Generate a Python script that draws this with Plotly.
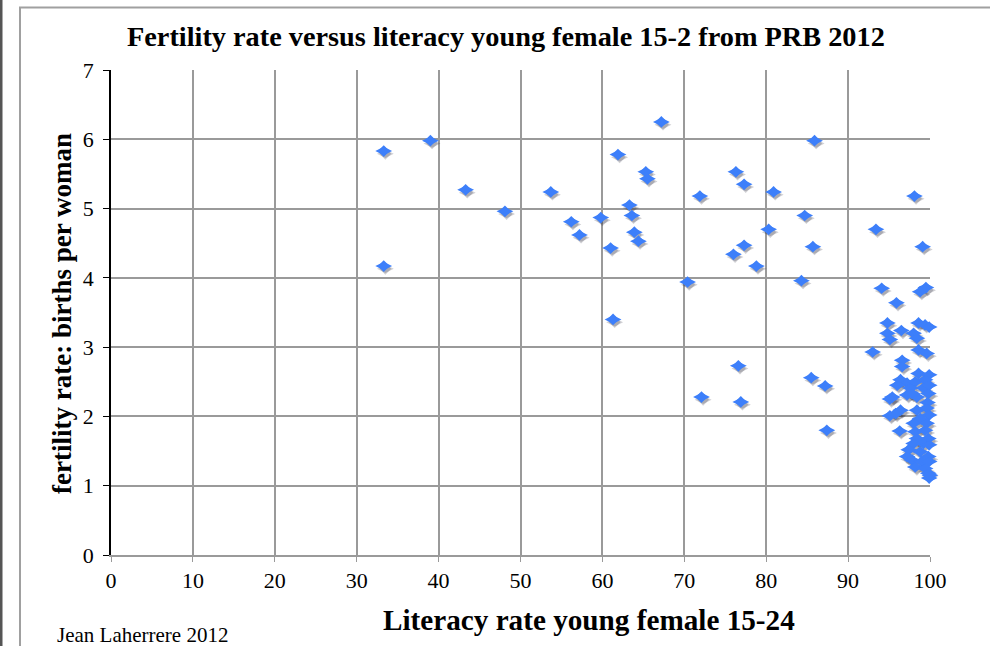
import plotly.graph_objects as go

# Literacy rate of young women (15-24, %) and total fertility rate (births per woman), PRB 2012
literacy = [
    33.3, 39.0, 43.3, 48.1, 33.3, 53.7,
    67.2, 85.9, 61.9, 65.3, 65.5, 76.3, 77.3, 71.9, 80.9, 63.3, 63.6, 59.8,
    56.2, 57.2, 63.9, 64.4, 61.0, 84.7, 80.3, 77.3, 76.0, 85.7, 78.8, 70.4,
    84.3, 61.3, 76.6, 85.5, 87.2, 72.1, 76.9, 87.4, 93.0,
    98.1, 99.1, 93.4, 94.1, 95.9, 98.8, 99.5,
    94.8, 94.8, 95.1, 96.5, 98.0, 98.4, 98.6, 99.4, 99.9,
    98.6, 99.6, 96.6, 96.6, 98.6, 99.9, 96.4, 97.2, 98.2, 99.4, 96.0, 97.6,
    99.2, 99.9, 95.4, 97.2, 98.4, 99.8,
    95.1, 97.8, 99.7, 96.4, 95.1, 95.8, 98.4, 99.6, 99.9, 98.8, 98.0, 99.6,
    96.3, 98.2, 99.4, 98.4, 99.8, 98.0, 99.2, 99.9, 97.4, 98.8, 97.2, 97.8,
    99.8, 99.0, 99.9, 98.2, 99.4, 99.8, 99.9, 100.0,
]
fertility = [
    5.83, 5.98, 5.27, 4.96, 4.17, 5.24,
    6.25, 5.98, 5.78, 5.53, 5.43, 5.53, 5.35, 5.18, 5.24, 5.05, 4.90, 4.87,
    4.81, 4.62, 4.66, 4.53, 4.43, 4.90, 4.70, 4.47, 4.34, 4.45, 4.17, 3.94,
    3.96, 3.40, 2.73, 2.56, 2.44, 2.28, 2.21, 1.80, 2.93,
    5.18, 4.45, 4.70, 3.85, 3.64, 3.80, 3.86,
    3.35, 3.20, 3.11, 3.24, 3.20, 3.13, 3.35, 3.32, 3.29,
    2.96, 2.91, 2.81, 2.72, 2.62, 2.60, 2.53, 2.48, 2.50, 2.53, 2.45, 2.41,
    2.41, 2.45, 2.28, 2.31, 2.28, 2.33,
    2.25, 2.33, 2.20, 2.09, 2.01, 2.04, 2.09, 2.12, 2.02, 1.97, 1.90, 1.90,
    1.79, 1.78, 1.80, 1.68, 1.68, 1.61, 1.61, 1.59, 1.52, 1.49, 1.42, 1.37,
    1.42, 1.35, 1.35, 1.27, 1.25, 1.18, 1.11, 1.15,
]

x_ticks = list(range(0, 101, 10))
y_ticks = list(range(0, 8))

W, H = 990, 646
L, R, T, B = 111, 60, 70, 91
pw, ph = W - L - R, H - T - B

def px_to_paper_x(px):
    return (px - L) / pw

def px_to_paper_y(py):
    return (H - B - py) / ph

serif = "Liberation Serif, Times New Roman, serif"
blue = "#3d7ffa"
marker_parts = (("diamond", 9), ("diamond-wide", 12))

fig = go.Figure()

# soft drop shadow under the markers
for sym, sz in marker_parts:
    fig.add_trace(go.Scatter(
        x=[v + 0.2 for v in literacy], y=[v - 0.04 for v in fertility],
        mode="markers", cliponaxis=False, hoverinfo="skip", showlegend=False,
        marker=dict(symbol=sym, size=sz, color="rgba(40,40,60,0.22)", line=dict(width=0)),
    ))
# rounded, slightly flattened diamond built from two overlaid symbols
for sym, sz in marker_parts:
    fig.add_trace(go.Scatter(
        x=literacy, y=fertility, mode="markers", cliponaxis=False, showlegend=False,
        marker=dict(symbol=sym, size=sz, color=blue, line=dict(width=0)),
    ))

fig.update_layout(
    width=W, height=H,
    margin=dict(l=L, r=R, t=T, b=B),
    paper_bgcolor="white", plot_bgcolor="white",
    font=dict(family=serif, color="black"),
    showlegend=False,
    xaxis=dict(
        range=[0, 100], tickvals=x_ticks, ticktext=[str(v) for v in x_ticks],
        showgrid=True, gridcolor="#9a9a9a", gridwidth=1.6,
        showline=True, linecolor="#9a9a9a", linewidth=1.6,
        ticks="outside", ticklen=5, tickcolor="#9a9a9a", tickwidth=1.2,
        tickfont=dict(size=22, family=serif, color="black"),
        ticklabelstandoff=0,
        zeroline=False, mirror=False,
    ),
    yaxis=dict(
        range=[0, 7], tickvals=y_ticks, ticktext=[str(v) for v in y_ticks],
        showgrid=True, gridcolor="#9a9a9a", gridwidth=1.6,
        showline=True, linecolor="black", linewidth=1.6,
        ticks="outside", ticklen=6, tickcolor="black", tickwidth=1.2,
        tickfont=dict(size=22, family=serif, color="black"),
        ticklabelstandoff=5,
        zeroline=False,
    ),
    annotations=[
        dict(text="<b>Fertility rate versus literacy young female 15-2 from PRB 2012</b>",
             x=px_to_paper_x(506), y=px_to_paper_y(36), xref="paper", yref="paper",
             showarrow=False, font=dict(size=28.3, family=serif, color="black"),
             xanchor="center", yanchor="middle"),
        dict(text="<b>fertility rate: births per woman</b>",
             x=px_to_paper_x(62), y=px_to_paper_y(314), xref="paper", yref="paper",
             showarrow=False, textangle=-90, font=dict(size=27, family=serif, color="black"),
             xanchor="center", yanchor="middle"),
        dict(text="<b>Literacy rate young female 15-24</b>",
             x=px_to_paper_x(589), y=px_to_paper_y(620), xref="paper", yref="paper",
             showarrow=False, font=dict(size=29.2, family=serif, color="black"),
             xanchor="center", yanchor="middle"),
        dict(text="Jean Laherrere 2012",
             x=px_to_paper_x(55), y=px_to_paper_y(635), xref="paper", yref="paper",
             showarrow=False, font=dict(size=21, family=serif, color="black"),
             xanchor="left", yanchor="middle"),
    ],
    shapes=[
        # chart frame
        dict(type="rect", xref="paper", yref="paper",
             x0=px_to_paper_x(20), x1=px_to_paper_x(1000),
             y0=px_to_paper_y(660), y1=px_to_paper_y(7.5),
             line=dict(color="#a0a0a0", width=2), layer="below"),
        # dark edge on the far left
        dict(type="line", xref="paper", yref="paper",
             x0=px_to_paper_x(1), x1=px_to_paper_x(1),
             y0=px_to_paper_y(0), y1=px_to_paper_y(646),
             line=dict(color="#555555", width=3)),
    ],
)

fig.write_html("out.html")
